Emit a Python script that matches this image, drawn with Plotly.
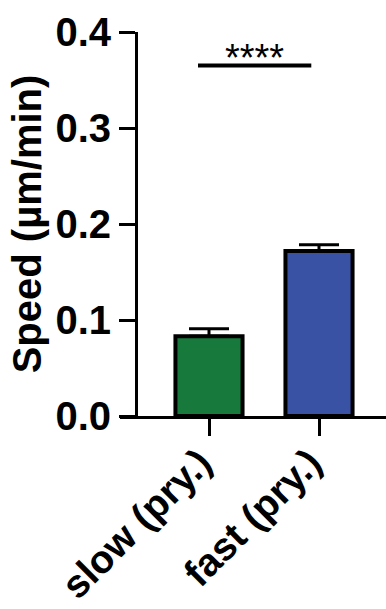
import plotly.graph_objects as go

categories = ["slow (pry.)", "fast (pry.)"]
speed_mean = [0.083, 0.172]
speed_sem = [0.008, 0.0065]
bar_colors = ["#177A3C", "#3A52A3"]
y_tickvals = [0.0, 0.1, 0.2, 0.3, 0.4]
y_ticktext = ["0.0", "0.1", "0.2", "0.3", "0.4"]
sig_label = "****"
sig_y = 0.365
sig_x = [-0.1, 0.93]

x_pos = list(range(len(categories)))

fig = go.Figure()
fig.add_trace(go.Bar(
    x=x_pos, y=speed_mean, width=0.61,
    marker=dict(color=bar_colors, line=dict(color="black", width=4)),
    error_y=dict(type="data", array=speed_sem, arrayminus=[0, 0], symmetric=False,
                 color="black", thickness=3, width=20),
))

fig.add_shape(type="line", xref="x", yref="y", x0=sig_x[0], x1=sig_x[1], y0=sig_y, y1=sig_y,
              line=dict(color="black", width=4))
fig.add_annotation(x=(sig_x[0] + sig_x[1]) / 2, y=sig_y, xref="x", yref="y", text=sig_label,
                   showarrow=False, yanchor="bottom", yshift=-15,
                   font=dict(family="Liberation Sans", size=38, color="black"))

FONT = "Liberation Sans"
fig.update_layout(
    width=386, height=609,
    margin=dict(l=120, r=0, t=32, b=193),
    plot_bgcolor="white", paper_bgcolor="white",
    showlegend=False,
    xaxis=dict(
        range=[-0.809, 1.609], tickvals=x_pos, ticktext=categories,
        tickangle=-45, ticks="outside", ticklen=17, tickwidth=3, tickcolor="black",
        showline=True, linecolor="black", linewidth=3, showgrid=False, zeroline=False,
        automargin=False, ticklabelstandoff=-12, ticklabelshift=-9,
        tickfont=dict(family=FONT, size=39, color="black", weight="bold"),
    ),
    yaxis=dict(
        range=[0, 0.4], tickvals=y_tickvals, ticktext=y_ticktext,
        anchor="free", position=0.0602, automargin=False,
        ticks="outside", ticklen=16, tickwidth=3, tickcolor="black",
        showline=True, linecolor="black", linewidth=3, showgrid=False, zeroline=False,
        tickfont=dict(family=FONT, size=40, color="black", weight="bold"),
        title=dict(text="Speed (µm/min)", standoff=0,
                   font=dict(family=FONT, size=40, color="black", weight="bold")),
    ),
)

fig.write_html("out.html")
